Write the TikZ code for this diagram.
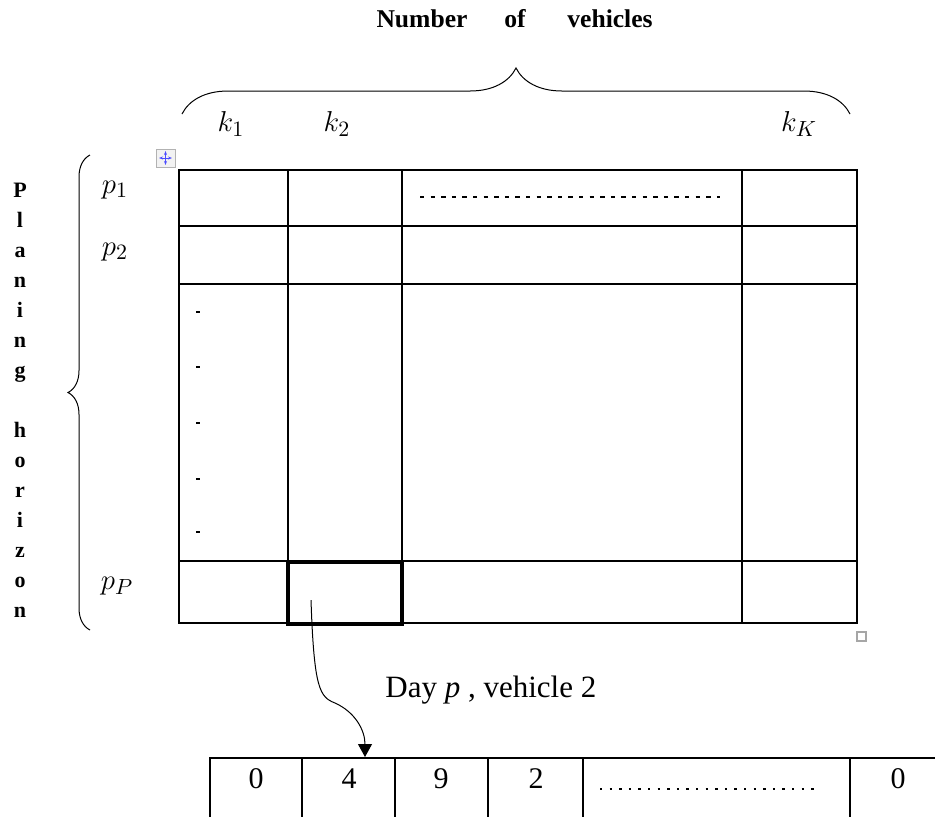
\documentclass[tikz,border=0pt]{standalone}
\usepackage{fontspec}
\setmainfont{Liberation Serif}
\usetikzlibrary{arrows.meta, decorations.pathreplacing, positioning}

\tikzset{
  grid/.style={line width=0.7pt},
  headword/.style={font=\fontsize{12.8}{14}\bfseries\selectfont},
  vletter/.style={font=\fontsize{11}{12}\bfseries\selectfont, anchor=base},
  lab/.style={font=\fontsize{15.5}{17}\selectfont},
  cellnum/.style={font=\fontsize{15}{17}\selectfont},
}

\begin{document}
\begin{tikzpicture}[x=0.5pt, y=-0.5pt, >=Stealth]
  \useasboundingbox (0,0) rectangle (935,816);
  \clip (0,0) rectangle (935,816);
  % heading and top brace
  \node[headword] (hnum) at (422,19) {Number};
  \node[headword] (hof) at (515,19) {of};
  \node[headword] (hveh) at (610,19) {vehicles};
  \draw[line width=0.5pt, decorate, decoration={brace, amplitude=23pt}] (182,114) -- (850,114);
  \node[lab] (k1) at (231,124) {$k_1$};
  \node[lab] (k2) at (337,124) {$k_2$};
  \node[lab] (kK) at (799,124) {$k_K$};
  % planing horizon, one letter per line
  \foreach \ch [count=\i from 0] in {P,l,a,n,i,n,g}
    \node[vletter] (pl\i) at (20,{197+30*\i}) {\ch};
  \foreach \ch [count=\i from 8] in {h,o,r,i,z,o,n}
    \node[vletter] (ho\i) at (20,{197+30*\i}) {\ch};
  \draw[line width=0.5pt, decorate, decoration={brace, amplitude=11pt}] (90,630) -- (90,155);
  \node[lab] (p1) at (115,190) {$p_1$};
  \node[lab] (p2) at (115,252) {$p_2$};
  \node[lab] (pP) at (117,586) {$p_P$};
  % main table
  \draw[grid] (179,170) rectangle (857,623);
  \foreach \x in {288,402,742} \draw[grid] (\x,170) -- (\x,623);
  \foreach \y in {226,284,561} \draw[grid] (179,\y) -- (857,\y);
  \draw[line width=1pt, dash pattern=on 2.2pt off 3.1pt] (420,197) -- (720,197);
  \foreach \y in {312,367,423,479,532} \draw[line width=0.8pt] (196,\y) -- (200,\y);
  \draw[line width=2pt] (288,562) rectangle (402,624);
  % word handles
  \draw[gray!60, fill=gray!10] (156,149) rectangle (175,167);
  \draw[blue!70, <->, >={Stealth[length=2pt]}, line width=0.5pt] (159,158) -- (172,158);
  \draw[blue!70, <->, >={Stealth[length=2pt]}, line width=0.5pt] (165.5,151) -- (165.5,165);
  \draw[gray!70, line width=0.7pt] (857,632) rectangle (866,641);
  % selected cell to the route
  \coordinate (cellsel) at (311,600);
  \coordinate (routein) at (365,757);
  \draw[line width=0.5pt, -{Triangle[length=6.5pt, width=7pt]}] (cellsel)
    .. controls (314,690) and (320,697) .. (335,703)
    .. controls (355,712) and (365,730) .. (routein);
  \node[font=\fontsize{15.5}{17}\selectfont, anchor=west, inner sep=0pt] (daylab) at (385,690) {Day \textit{p} , vehicle 2};
  % route of day p, vehicle 2
  \draw[grid] (935,758) -- (210,758) -- (210,820);
  \foreach \x in {302,395,488,583,850} \draw[grid] (\x,758) -- (\x,820);
  \node[cellnum] (r1) at (256,779) {0};
  \node[cellnum] (r2) at (349,779) {4};
  \node[cellnum] (r3) at (441,779) {9};
  \node[cellnum] (r4) at (536,779) {2};
  \draw[line width=1pt, dash pattern=on 1.2pt off 3.6pt] (600,789) -- (815,789);
  \node[cellnum] (r6) at (898,779) {0};
\end{tikzpicture}
\end{document}
